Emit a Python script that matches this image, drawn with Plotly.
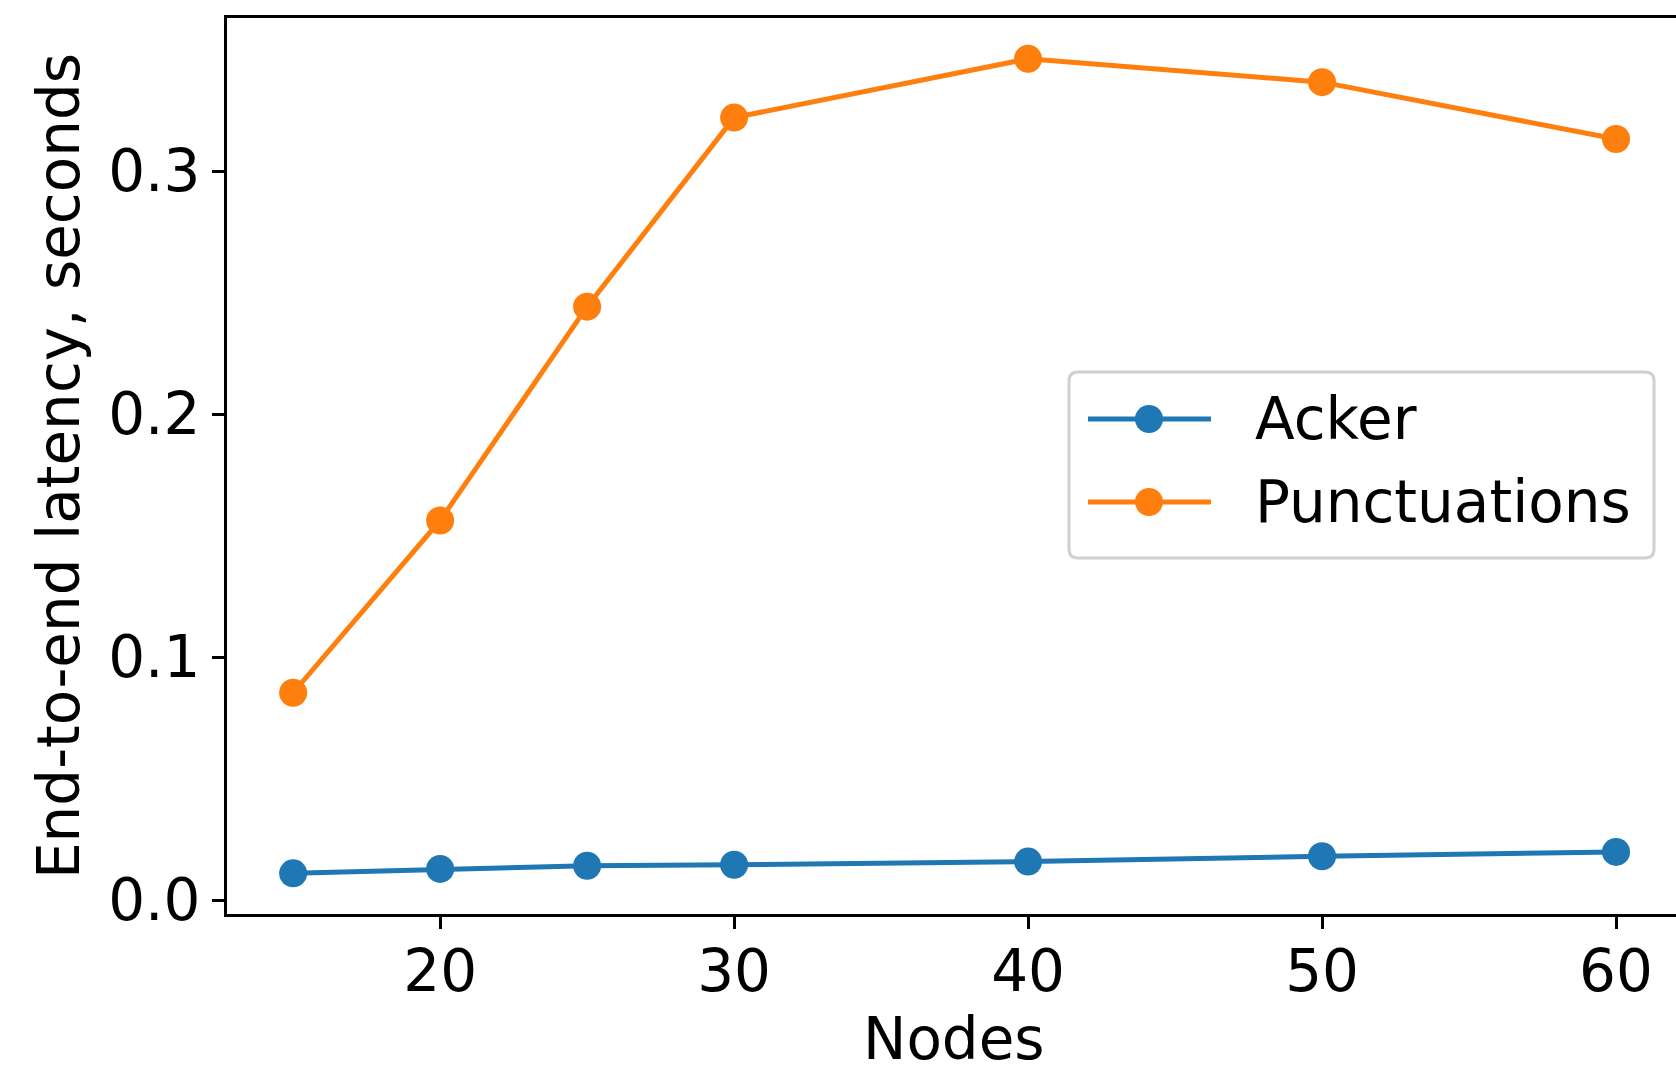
import plotly.graph_objects as go

nodes = [15, 20, 25, 30, 40, 50, 60]
acker = [0.0110, 0.0128, 0.0141, 0.0145, 0.0158, 0.0180, 0.0198]
punctuations = [0.0853, 0.1562, 0.2442, 0.3220, 0.3462, 0.3366, 0.3132]
series_names = ["Acker", "Punctuations"]
series_colors = ["#1f77b4", "#ff7f0e"]

x_ticks = [20, 30, 40, 50, 60]
y_ticks = [0.0, 0.1, 0.2, 0.3]

FONT = "DejaVu Sans"
FS = 58

W, H = 1676, 1072
ML, MT, MR = 227, 18, 0
PLOT_H = 896
MB = H - MT - PLOT_H
PLOT_W = W - ML - MR


def px(xp):  # page x -> paper fraction
    return (xp - ML) / PLOT_W


def py(yp):  # page y -> paper fraction
    return (H - MB - yp) / PLOT_H


fig = go.Figure()
for name, vals, col in zip(series_names, [acker, punctuations], series_colors):
    fig.add_trace(go.Scatter(x=nodes, y=vals, name=name, mode="lines+markers",
                             line=dict(color=col, width=5),
                             marker=dict(size=28, color=col), showlegend=False))

# custom legend (matplotlib-style)
bx0, bx1, by0, by1 = 1069, 1654, 372, 558
r = 9
x0, x1, y0, y1 = px(bx0), px(bx1), py(by0), py(by1)
rx = r / PLOT_W
ry = r / PLOT_H
path = (f"M {x0+rx},{y0} L {x1-rx},{y0} Q {x1},{y0} {x1},{y0-ry} "
        f"L {x1},{y1+ry} Q {x1},{y1} {x1-rx},{y1} L {x0+rx},{y1} "
        f"Q {x0},{y1} {x0},{y1+ry} L {x0},{y0-ry} Q {x0},{y0} {x0+rx},{y0} Z")
fig.add_shape(type="path", path=path, xref="paper", yref="paper",
              line=dict(color="#d0d0d0", width=3), fillcolor="rgba(255,255,255,0.8)",
              layer="above")
rows_y = [419, 502]
for name, col, ry_ in zip(series_names, series_colors, rows_y):
    fig.add_shape(type="line", xref="paper", yref="paper",
                  x0=px(1088), x1=px(1211), y0=py(ry_), y1=py(ry_),
                  line=dict(color=col, width=5), layer="above")
    fig.add_shape(type="circle", xref="paper", yref="paper",
                  xsizemode="pixel", ysizemode="pixel",
                  xanchor=px(1149), yanchor=py(ry_),
                  x0=-14, x1=14, y0=-14, y1=14,
                  line=dict(color=col, width=0), fillcolor=col, layer="above")
    fig.add_annotation(x=px(1253), y=py(ry_), xref="paper", yref="paper",
                       text=name, showarrow=False, xanchor="left", yanchor="middle",
                       font=dict(family=FONT, size=FS, color="black"))

# x-axis title (centred on the full matplotlib axes, which extend past the right edge)
fig.add_annotation(x=px(954), y=py(1039), xref="paper", yref="paper",
                   text="Nodes", showarrow=False, xanchor="center", yanchor="middle",
                   font=dict(family=FONT, size=FS, color="black"))

fig.update_layout(
    width=W, height=H,
    margin=dict(l=ML, r=MR, t=MT, b=MB),
    plot_bgcolor="white", paper_bgcolor="white",
    font=dict(family=FONT, size=FS, color="black"),
    showlegend=False,
    xaxis=dict(range=[12.75, 62.04], tickvals=x_ticks, ticktext=[str(v) for v in x_ticks],
               showline=True, linecolor="black", linewidth=3, mirror=True,
               ticks="outside", ticklen=12, tickwidth=3, tickcolor="black",
               ticklabelstandoff=-8,
               showgrid=False, zeroline=False),
    yaxis=dict(range=[-0.00576, 0.3630], tickvals=y_ticks, ticktext=[f"{v:.1f}" for v in y_ticks],
               showline=True, linecolor="black", linewidth=3, mirror=False,
               ticks="outside", ticklen=12, tickwidth=3, tickcolor="black",
               showgrid=False, zeroline=False,
               title=dict(text="End-to-end latency, seconds", font=dict(family=FONT, size=FS), standoff=10)),
)

fig.write_html("out.html", config={"displayModeBar": False},
               post_script="document.body.style.margin='0';document.body.style.overflow='hidden';")
